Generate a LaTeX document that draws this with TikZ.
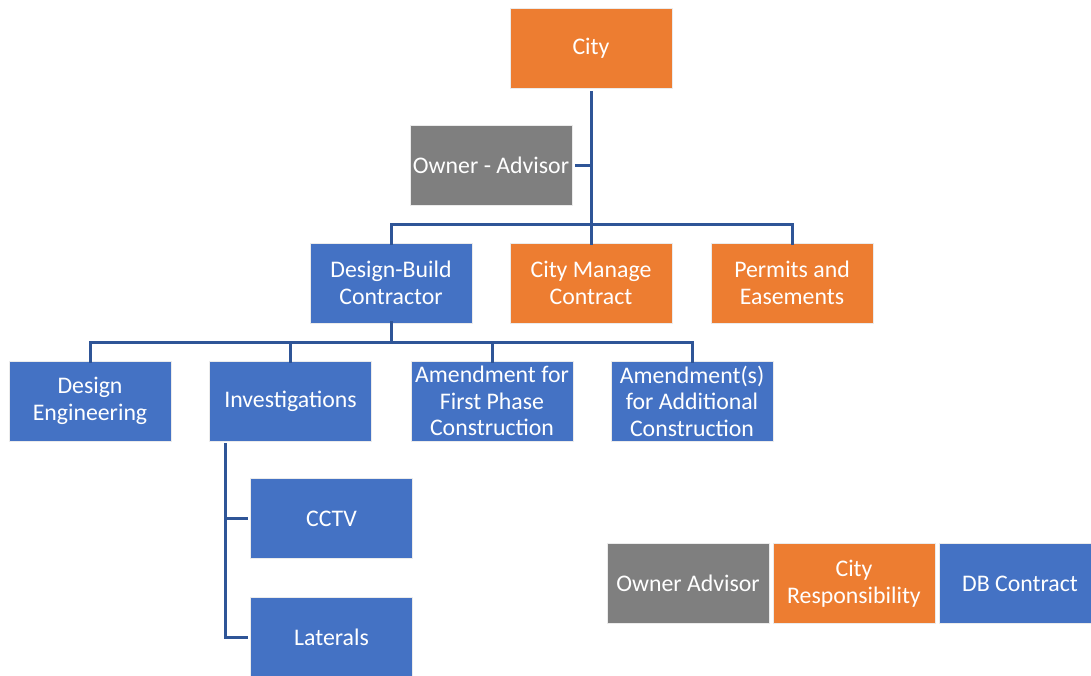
\documentclass[tikz,border=0pt]{standalone}
\usepackage{fontspec}
\setmainfont{Carlito}
\definecolor{cOrange}{HTML}{ED7D31}
\definecolor{cGray}{HTML}{7F7F7F}
\definecolor{cBlue}{HTML}{4472C4}
\definecolor{cLine}{HTML}{2F5597}
\begin{document}
\begin{tikzpicture}[x=1pt,y=-1pt,
  box/.style={draw=white!92!black, line width=0.8pt, minimum width=162pt, minimum height=80pt, inner sep=0pt, text=white, align=center, font=\fontsize{23.8}{26.5}\selectfont},
  orangebox/.style={box, fill=cOrange},
  graybox/.style={box, fill=cGray},
  bluebox/.style={box, fill=cBlue},
  conn/.style={draw=cLine, line width=3pt}]
\useasboundingbox (0,0) rectangle (1091,675);
\node[orangebox] (city) at (591,48) {City};
\node[graybox] (owner) at (491,165.5) {Owner - Advisor};
\node[bluebox] (db) at (391,283) {Design-Build\\Contractor};
\node[orangebox] (cmc) at (591,283) {City Manage\\Contract};
\node[orangebox] (pe) at (792,283) {Permits and\\Easements};
\node[bluebox] (de) at (90,401) {Design\\Engineering};
\node[bluebox] (inv) at (290.5,401) {Investigations};
\node[bluebox] (am1) at (492,401) {Amendment for\\First Phase\\Construction};
\node[bluebox] (am2) at (692,401) {Amendment(s)\\for Additional\\Construction};
\node[bluebox] (cctv) at (331.5,518.5) {CCTV};
\node[bluebox] (lat) at (331.5,637) {Laterals};
\node[graybox] (l1) at (688,583.5) {Owner Advisor};
\node[orangebox] (l2) at (854,583.5) {City\\Responsibility};
\node[bluebox] (l3) at (1020,583.5) {DB Contract};
% connectors level 1
\coordinate (j1) at (591,224);
\coordinate (j0) at (591,165.5);
\draw[conn] ([yshift=-3pt]city.south) -- (j1);
\draw[conn] ([xshift=3pt]owner.east) -- (j0);
\draw[conn] ([yshift=-2pt]db.north) -- (db.north |- j1) -- (pe.north |- j1) -- ([yshift=-2pt]pe.north);
\draw[conn] (j1) -- ([yshift=-2pt]cmc.north);
% level 2
\coordinate (j2) at (391,342);
\draw[conn] ([yshift=2pt]db.south) -- (j2);
\draw[conn] ([yshift=-2pt]de.north) -- (de.north |- j2) -- (am2.north |- j2) -- ([yshift=-2pt]am2.north);
\draw[conn] ([yshift=-2pt]inv.north) -- (inv.north |- j2);
\draw[conn] ([yshift=-2pt]am1.north) -- (am1.north |- j2);
% investigations children
\coordinate (v0) at (225,443);
\draw[conn] (v0) -- (v0 |- lat.west) -- ([xshift=-2pt]lat.west);
\draw[conn] (v0 |- cctv.west) -- ([xshift=-2pt]cctv.west);
\end{tikzpicture}
\end{document}
